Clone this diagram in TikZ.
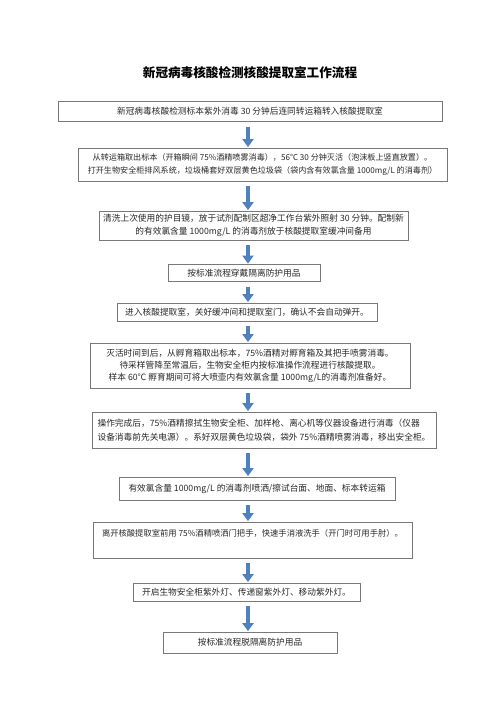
\documentclass[tikz,border=0pt]{standalone}
\usepackage{fontspec}
\setmainfont{Noto Sans CJK SC}
\usetikzlibrary{arrows.meta,calc}
\definecolor{arrowblue}{RGB}{79,129,189}
\definecolor{boxgray}{RGB}{120,120,120}
\definecolor{txt}{RGB}{40,40,40}
\tikzset{
  box/.style={draw=boxgray, line width=0.8pt, fill=white, inner sep=0pt, align=center,
    text=txt, font=\fontsize{8.7}{13}\selectfont},
  flowarrow/.style={draw=arrowblue, line width=4.2pt,
    -{Triangle[width=11pt,length=8pt]}, arrowblue, shorten >=0.5pt}
}
\begin{document}
\begin{tikzpicture}[x=1pt,y=-1pt]
\fill[white] (0,0) rectangle (500,707);
\useasboundingbox (0,0) rectangle (500,707);
\node[font=\fontsize{12.6}{15}\selectfont\bfseries, text=black] (title) at (250,73) {新冠病毒核酸检测核酸提取室工作流程};

\node[box, minimum width=384pt, minimum height=20pt] (b1) at (250,111.5)
 {新冠病毒核酸检测标本紫外消毒 30 分钟后连同转运箱转入核酸提取室};
\node[box, minimum width=369pt, minimum height=33pt, font=\fontsize{8.1}{13}\selectfont] (b2) at (262.5,164.5)
 {从转运箱取出标本（开箱瞬间 75\%酒精喷雾消毒），56℃ 30 分钟灭活（泡沫板上竖直放置）。\\
  打开生物安全柜排风系统，垃圾桶套好双层黄色垃圾袋（袋内含有效氯含量 1000mg/L 的消毒剂）};
\node[box, minimum width=309pt, minimum height=29pt] (b3) at (253.5,225.5)
 {清洗上次使用的护目镜，放于试剂配制区超净工作台紫外照射 30 分钟。配制新\\
  的有效氯含量 1000mg/L 的消毒剂放于核酸提取室缓冲间备用};
\node[box, minimum width=152pt, minimum height=17pt] (b4) at (244,273)
 {按标准流程穿戴隔离防护用品};
\node[box, minimum width=260pt, minimum height=18pt] (b5) at (247,312)
 {进入核酸提取室，关好缓冲间和提取室门，确认不会自动弹开。};
\node[box, minimum width=320pt, minimum height=45pt, font=\fontsize{8.7}{12}\selectfont] (b6) at (250,365.5)
 {灭活时间到后，从孵育箱取出标本，75\%酒精对孵育箱及其把手喷雾消毒。\\
  待采样管降至常温后，生物安全柜内按标准操作流程进行核酸提取。\\
  样本 60℃ 孵育期间可将大喷壶内有效氯含量 1000mg/L的消毒剂准备好。};
\node[box, minimum width=344pt, minimum height=36pt, align=left, font=\fontsize{8.7}{14.5}\selectfont] (b7) at (264,430)
 {操作完成后，75\%酒精擦拭生物安全柜、加样枪、离心机等仪器设备进行消毒（仪器\\
  设备消毒前先关电源）。系好双层黄色垃圾袋，袋外 75\%酒精喷雾消毒，移出安全柜。};
\node[box, minimum width=276pt, minimum height=23pt] (b8) at (257,488.5)
 {有效氯含量 1000mg/L 的消毒剂喷洒/擦试台面、地面、标本转运箱};
\node[box, minimum width=319pt, minimum height=36pt, font=\fontsize{8.3}{15}\selectfont] (b9) at (252.5,540)
 {离开核酸提取室前用 75\%酒精喷洒门把手，快速手消液洗手（开门时可用手肘）。\\ \mbox{}};
\node[box, minimum width=227pt, minimum height=18pt] (b10) at (246.5,592)
 {开启生物安全柜紫外灯、传递窗紫外灯、移动紫外灯。};
\node[box, minimum width=174pt, minimum height=21pt] (b11) at (250,642.5)
 {按标准流程脱隔离防护用品};

\coordinate (ax) at (248,0);
\foreach \a/\b in {b1/b2,b2/b3,b3/b4,b4/b5,b5/b6,b6/b7,b7/b8,b8/b9,b9/b10,b10/b11}{
  \draw[flowarrow] ([yshift=-5pt]\a.south -| ax) -- (\b.north -| ax);
}
\end{tikzpicture}
\end{document}
